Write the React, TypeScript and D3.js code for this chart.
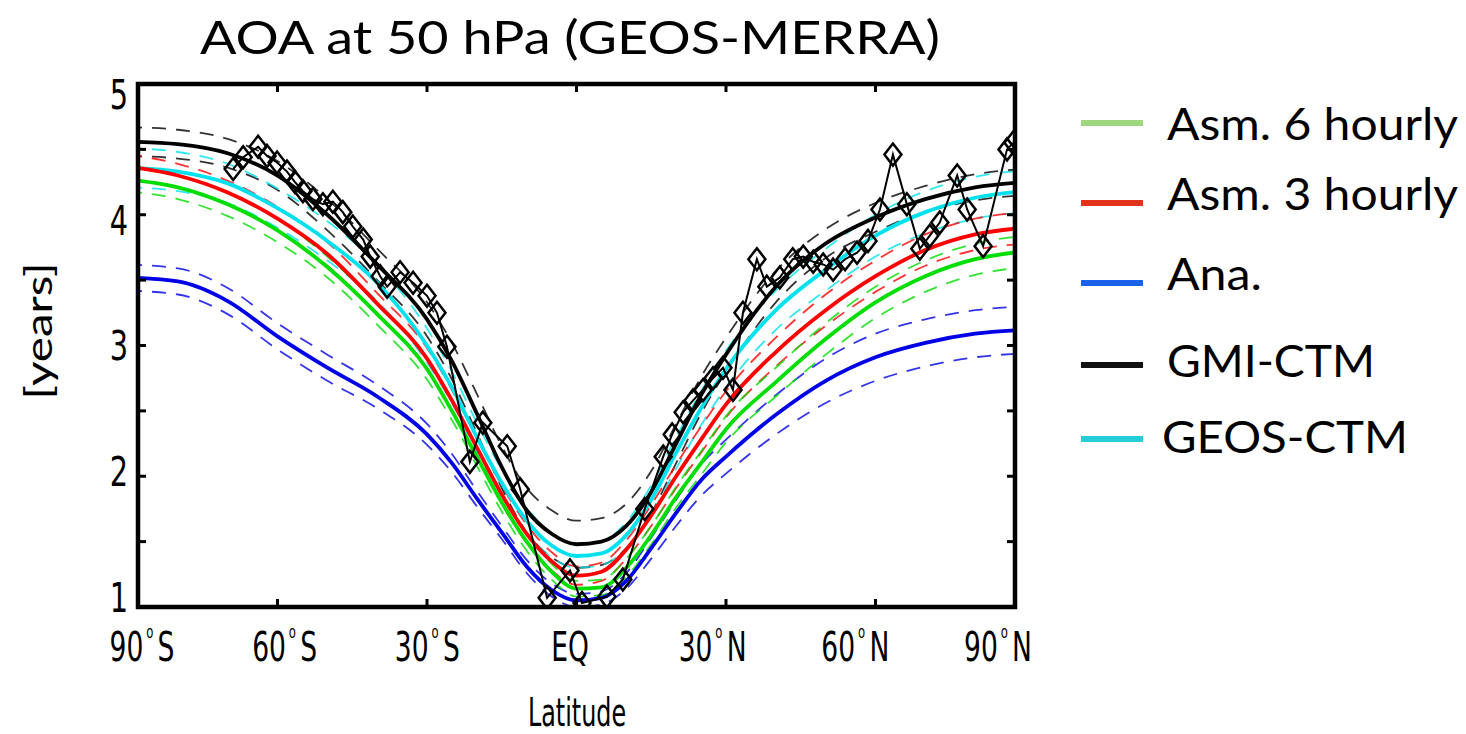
import React from "react";
import * as d3 from "d3";

// ---------- data ----------
const LATS = [-90, -80, -70, -60, -50, -40, -30, -25, -20, -15, -10, -5, 0, 5, 10, 15, 20, 25, 30, 40, 50, 60, 70, 80, 90];

const ASM6 = [4.27, 4.21, 4.08, 3.88, 3.6, 3.24, 2.82, 2.5, 2.15, 1.8, 1.5, 1.27, 1.14, 1.15, 1.3, 1.55, 1.84, 2.1, 2.36, 2.72, 3.05, 3.33, 3.53, 3.66, 3.72];
const ASM6_SPREAD = [0.09, 0.09, 0.09, 0.09, 0.08, 0.08, 0.08, 0.07, 0.07, 0.07, 0.07, 0.06, 0.06, 0.06, 0.07, 0.07, 0.08, 0.09, 0.1, 0.11, 0.12, 0.12, 0.12, 0.12, 0.12];

const ASM3 = [4.37, 4.3, 4.17, 3.97, 3.7, 3.32, 2.9, 2.58, 2.22, 1.86, 1.56, 1.35, 1.24, 1.27, 1.44, 1.7, 2.0, 2.28, 2.55, 2.95, 3.27, 3.53, 3.73, 3.85, 3.9];
const ASM3_SPREAD = [0.09, 0.09, 0.09, 0.09, 0.09, 0.08, 0.08, 0.08, 0.07, 0.07, 0.07, 0.07, 0.07, 0.07, 0.07, 0.08, 0.09, 0.1, 0.1, 0.11, 0.12, 0.12, 0.12, 0.12, 0.12];

const ANA = [3.52, 3.49, 3.34, 3.07, 2.83, 2.61, 2.32, 2.1, 1.83, 1.57, 1.31, 1.13, 1.05, 1.07, 1.2, 1.45, 1.72, 1.97, 2.15, 2.47, 2.73, 2.91, 3.02, 3.09, 3.12];
const ANA_SPREAD = [0.1, 0.1, 0.1, 0.1, 0.1, 0.09, 0.08, 0.07, 0.06, 0.05, 0.05, 0.05, 0.05, 0.05, 0.06, 0.08, 0.1, 0.12, 0.13, 0.15, 0.17, 0.18, 0.18, 0.18, 0.18];

const GMI = [4.56, 4.54, 4.47, 4.3, 4.0, 3.62, 3.2, 2.88, 2.48, 2.07, 1.74, 1.56, 1.48, 1.5, 1.62, 1.88, 2.25, 2.62, 2.93, 3.45, 3.78, 3.98, 4.12, 4.21, 4.25];
const GMI_SPREAD = [0.11, 0.11, 0.11, 0.11, 0.12, 0.12, 0.13, 0.14, 0.15, 0.16, 0.17, 0.18, 0.18, 0.18, 0.17, 0.16, 0.15, 0.14, 0.13, 0.12, 0.11, 0.11, 0.1, 0.1, 0.1];

const GEOS = [4.36, 4.33, 4.24, 4.05, 3.8, 3.48, 3.0, 2.68, 2.3, 1.95, 1.66, 1.47, 1.39, 1.41, 1.55, 1.82, 2.18, 2.52, 2.82, 3.27, 3.58, 3.84, 4.02, 4.13, 4.18];
const GEOS_SPREAD = [0.15, 0.15, 0.15, 0.15, 0.15, 0.14, 0.13, 0.12, 0.11, 0.1, 0.1, 0.09, 0.09, 0.09, 0.1, 0.11, 0.12, 0.13, 0.14, 0.15, 0.16, 0.16, 0.16, 0.16, 0.16];

// observations (diamonds)
const OBS_LAT = [-68.9, -66.9, -63.9, -62.1, -60.1, -58.1, -56.5, -54.9, -52.9, -50.9, -48.9, -46.9, -44.9, -42.8, -41.4, -39.4, -38.0, -35.4, -32.8, -30.0, -28.0, -26.0, -21.4, -18.8, -13.9, -11.3, -5.9, -1.3, 1.1, 6.1, 9.3, 13.7, 17.4, 19.2, 21.4, 23.4, 25.4, 27.4, 29.4, 31.4, 33.4, 36.2, 38.2, 40.8, 43.4, 45.5, 47.5, 49.5, 51.5, 53.9, 56.3, 58.5, 60.9, 63.5, 66.3, 68.9, 70.9, 72.9, 76.4, 78.4, 81.6, 86.4, 87.6];
const OBS_AOA = [4.35, 4.44, 4.52, 4.45, 4.4, 4.33, 4.25, 4.18, 4.12, 4.08, 4.1, 4.02, 3.91, 3.81, 3.68, 3.53, 3.45, 3.56, 3.48, 3.38, 3.25, 2.99, 2.11, 2.41, 2.23, 1.9, 1.07, 1.28, 1.03, 1.08, 1.21, 1.75, 2.15, 2.32, 2.49, 2.58, 2.66, 2.75, 2.83, 2.66, 3.25, 3.66, 3.45, 3.52, 3.66, 3.68, 3.64, 3.62, 3.58, 3.66, 3.71, 3.8, 4.04, 4.46, 4.08, 3.74, 3.84, 3.94, 4.3, 4.04, 3.76, 4.5, 4.55];

const X_TICKS = [-60, -30, 0, 30, 60];
const X_LABEL_LATS = [-90, -60, -30, 0, 30, 60, 90];
const X_LABEL_NUMS = ["90", "60", "30", "EQ", "30", "60", "90"];
const X_LABEL_HEMI = ["S", "S", "S", "", "N", "N", "N"];
const Y_TICKS = [1, 1.5, 2, 2.5, 3, 3.5, 4, 4.5, 5];
const Y_LABELS = [1, 2, 3, 4, 5];

const SERIES = [
  { name: "Asm. 6 hourly", values: ASM6, spread: ASM6_SPREAD, color: "#00dd00", legend: "#9fd680" },
  { name: "Asm. 3 hourly", values: ASM3, spread: ASM3_SPREAD, color: "#ff0000", legend: "#e2321c" },
  { name: "Ana.", values: ANA, spread: ANA_SPREAD, color: "#0000e6", legend: "#1a62ea" },
  { name: "GMI-CTM", values: GMI, spread: GMI_SPREAD, color: "#000000", legend: "#111111" },
  { name: "GEOS-CTM", values: GEOS, spread: GEOS_SPREAD, color: "#00e1ee", legend: "#25cdd9" },
];

const DRAW_ORDER = ["GMI-CTM", "GEOS-CTM", "Ana.", "Asm. 3 hourly", "Asm. 6 hourly"];

// ---------- layout ----------
const W = 1466;
const H = 734;
const LEFT = 138;
const RIGHT = 1015;
const TOP = 84;
const BOTTOM = 607;

const LEGEND_Y = [123, 203, 283, 365, 439];
const LEGEND_TEXT_Y = [140, 210, 290, 377, 453];
const LEGEND_TEXT_W = [291, 291, 95, 208, 246];

export default function App() {
  const x = d3.scaleLinear().domain([-88, 88]).range([LEFT, RIGHT]);
  const y = d3.scaleLinear().domain([1, 5]).range([BOTTOM, TOP]);
  const xLab = d3.scaleLinear().domain([-90, 90]).range([142, 998]);
  const yLab = d3.scaleLinear().domain([1, 5]).range([598, 95]);

  const line = d3
    .line<[number, number]>()
    .x((d) => x(d[0]))
    .y((d) => y(d[1]))
    .curve(d3.curveMonotoneX);
  const obsLine = d3
    .line<[number, number]>()
    .x((d) => x(d[0]))
    .y((d) => y(d[1]));

  const byName = (n: string) => SERIES.find((s) => s.name === n)!;
  const pts = (vals: number[]) => LATS.map((l, i) => [l, vals[i]] as [number, number]);

  const tickFont = "'DejaVu Sans', sans-serif";
  const mainFont = "Lato, 'Noto Sans', 'Open Sans', sans-serif";

  const obs = OBS_LAT.map((l, i) => [l, OBS_AOA[i]] as [number, number]);

  return (
    <svg width={W} height={H} style={{ position: "absolute", left: 0, top: 0, background: "#fff" }}>
      <rect x={0} y={0} width={W} height={H} fill="#fff" />
      <defs>
        <clipPath id="plotclip">
          <rect x={LEFT} y={TOP} width={RIGHT - LEFT} height={BOTTOM - TOP} />
        </clipPath>
      </defs>

      {/* title */}
      <text x={570} y={54} textAnchor="middle" fontFamily={mainFont} fontSize={46} fill="#000" textLength={740} lengthAdjust="spacingAndGlyphs">
        AOA at 50 hPa (GEOS-MERRA)
      </text>

      <g clipPath="url(#plotclip)">
        {/* dashed spread lines */}
        {DRAW_ORDER.map((n) => {
          const s = byName(n);
          const up = s.values.map((v, i) => v + s.spread[i]);
          const lo = s.values.map((v, i) => v - s.spread[i]);
          return (
            <g key={"d" + n}>
              <path d={line(pts(up)) || ""} fill="none" stroke={s.color} strokeWidth={1.8} strokeDasharray="14 10" opacity={0.8} />
              <path d={line(pts(lo)) || ""} fill="none" stroke={s.color} strokeWidth={1.8} strokeDasharray="14 10" opacity={0.8} />
            </g>
          );
        })}
        {/* solid mean lines */}
        {DRAW_ORDER.map((n) => {
          const s = byName(n);
          return <path key={"s" + n} d={line(pts(s.values)) || ""} fill="none" stroke={s.color} strokeWidth={3.8} />;
        })}
        {/* observations */}
        <path d={obsLine(obs) || ""} fill="none" stroke="#000" strokeWidth={2} />
        {obs.map((d, i) => (
          <path
            key={"o" + i}
            transform={`translate(${x(d[0])},${y(d[1])})`}
            d="M0,-11 L8.5,0 L0,11 L-8.5,0 Z"
            fill="none"
            stroke="#000"
            strokeWidth={2.5}
          />
        ))}
      </g>

      {/* frame */}
      <rect x={LEFT} y={TOP} width={RIGHT - LEFT} height={BOTTOM - TOP} fill="none" stroke="#000" strokeWidth={4.5} />

      {/* ticks */}
      {X_TICKS.map((t) => (
        <g key={"xt" + t}>
          <line x1={x(t)} x2={x(t)} y1={BOTTOM} y2={BOTTOM - 8} stroke="#000" strokeWidth={3} />
          <line x1={x(t)} x2={x(t)} y1={TOP} y2={TOP + 8} stroke="#000" strokeWidth={3} />
        </g>
      ))}
      {Y_TICKS.map((t) => (
        <g key={"yt" + t}>
          <line x1={LEFT} x2={LEFT + 8} y1={y(t)} y2={y(t)} stroke="#000" strokeWidth={3} />
          <line x1={RIGHT} x2={RIGHT - 8} y1={y(t)} y2={y(t)} stroke="#000" strokeWidth={3} />
        </g>
      ))}

      {/* x tick labels (condensed) */}
      {X_LABEL_LATS.map((l, i) => (
        <g key={"xl" + l} transform={`translate(${xLab(l)},661) scale(0.72,1)`}>
          <text x={0} y={0} textAnchor="middle" fontFamily={tickFont} fontStretch="condensed" fontSize={41} fill="#000">
            {X_LABEL_HEMI[i] ? (
              <>
                <tspan>{X_LABEL_NUMS[i]}</tspan>
                <tspan fontSize={18} dy={-23} dx={4}>o</tspan>
                <tspan dy={23} dx={6}>{X_LABEL_HEMI[i]}</tspan>
              </>
            ) : (
              <tspan>{X_LABEL_NUMS[i]}</tspan>
            )}
          </text>
        </g>
      ))}

      {/* y tick labels */}
      {Y_LABELS.map((t) => (
        <g key={"yl" + t} transform={`translate(128,${yLab(t)}) scale(0.8,1)`}>
          <text x={0} y={0} textAnchor="end" dominantBaseline="central" fontFamily={tickFont} fontStretch="condensed" fontSize={40} fill="#000">
            {t}
          </text>
        </g>
      ))}

      {/* axis titles */}
      <g transform="translate(577,726) scale(0.68,1)">
        <text x={0} y={0} textAnchor="middle" fontFamily={tickFont} fontStretch="condensed" fontSize={39} fill="#000">
          Latitude
        </text>
      </g>
      <text
        transform="translate(52,331) rotate(-90)"
        textAnchor="middle"
        fontFamily={mainFont}
        fontSize={36}
        fill="#000"
        textLength={137}
        lengthAdjust="spacingAndGlyphs"
      >
        [years]
      </text>

      {/* legend */}
      {SERIES.map((s, i) => (
        <g key={"lg" + s.name}>
          <line x1={1081} x2={1143} y1={LEGEND_Y[i]} y2={LEGEND_Y[i]} stroke={s.legend} strokeWidth={6} />
          <text
            x={i === 4 ? 1162 : 1167}
            y={LEGEND_TEXT_Y[i]}
            fontFamily={mainFont}
            fontSize={44}
            fill="#000"
            textLength={LEGEND_TEXT_W[i]}
            lengthAdjust="spacingAndGlyphs"
          >
            {s.name}
          </text>
        </g>
      ))}
    </svg>
  );
}
